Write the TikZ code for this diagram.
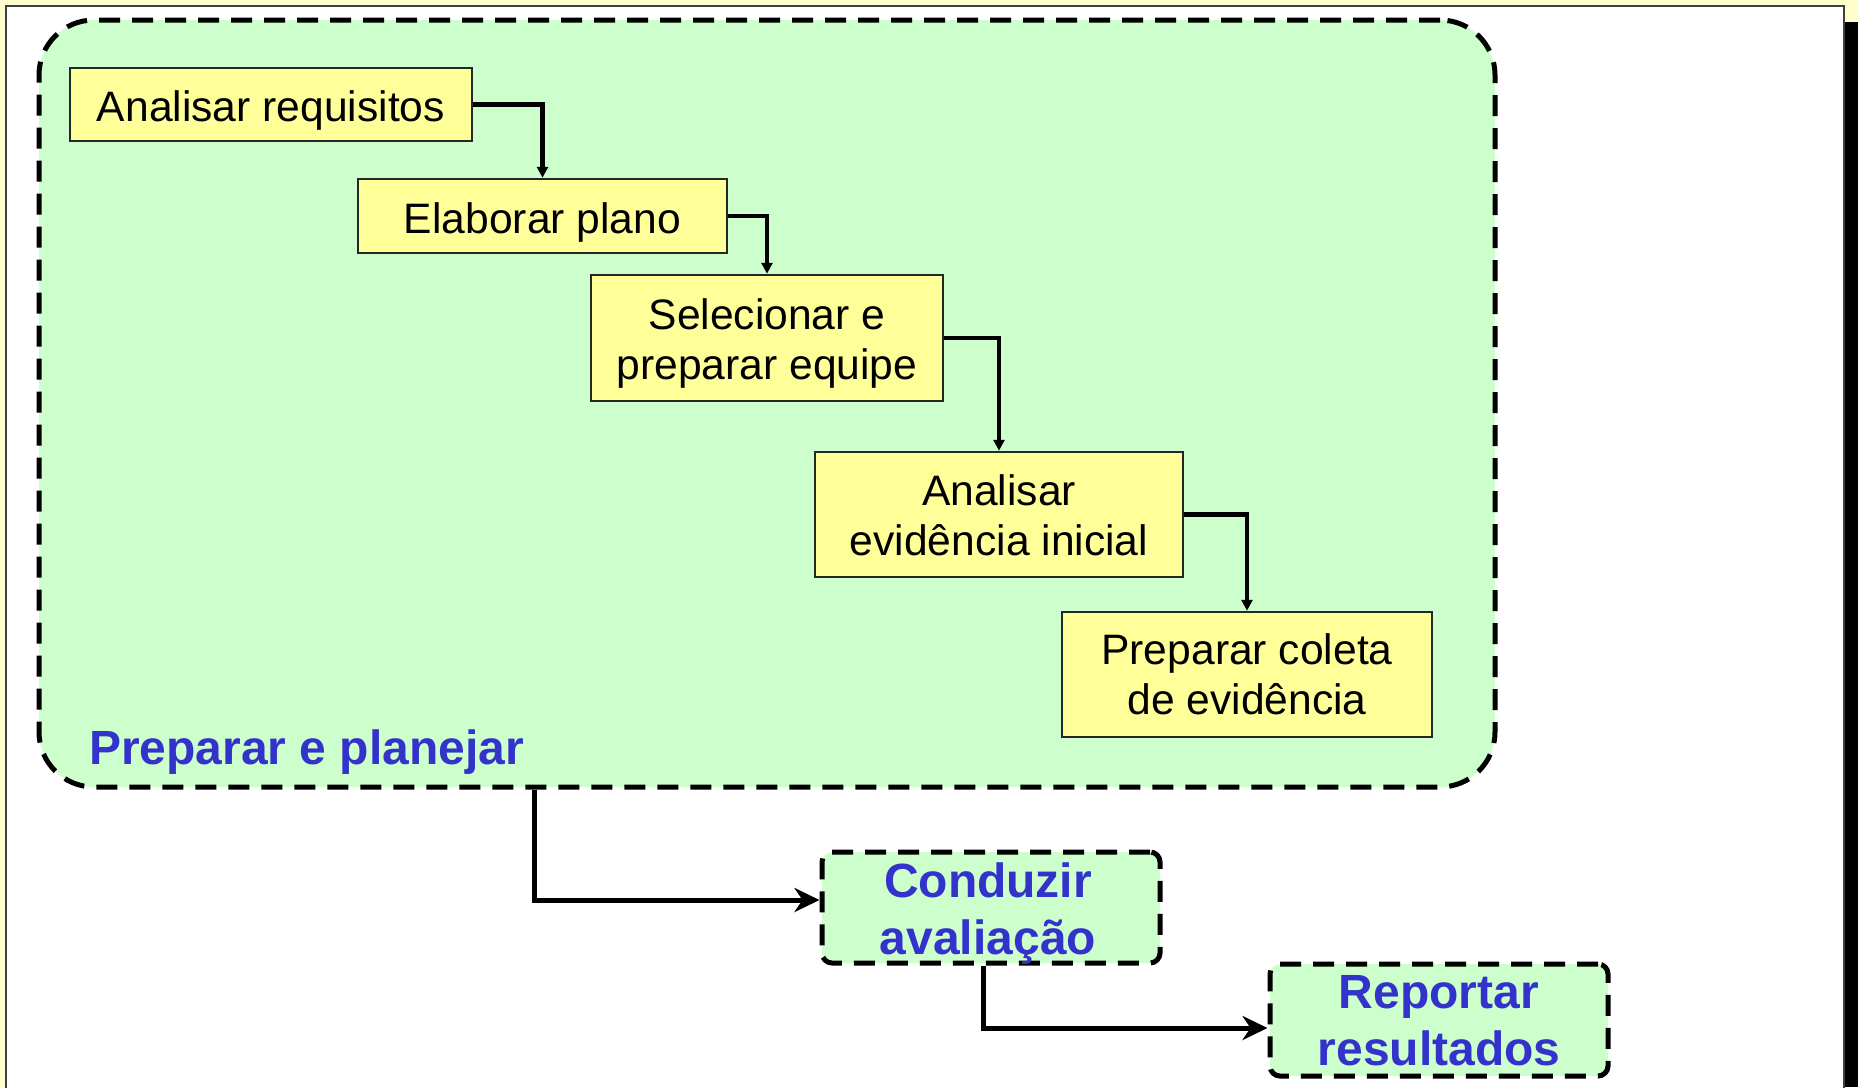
\documentclass[tikz,border=0pt]{standalone}
\usepackage{fontspec}
\setmainfont{Liberation Sans}
\usetikzlibrary{arrows.meta}

\definecolor{pagetint}{HTML}{FFFFCC}
\definecolor{framegray}{HTML}{404040}
\definecolor{groupgreen}{HTML}{CCFFCC}
\definecolor{taskyellow}{HTML}{FFFF99}
\definecolor{phaseblue}{HTML}{3333CC}

\tikzset{
  phasearea/.style={draw=black, fill=groupgreen, line width=5pt,
    dash pattern=on 21pt off 12pt, rounded corners=55pt, inner sep=0pt},
  phasebox/.style={draw=black, fill=groupgreen, line width=5pt,
    dash pattern=on 21pt off 12pt, rounded corners=10pt, inner sep=0pt},
  taskbox/.style={draw=black!85, fill=taskyellow, line width=2.5pt, inner sep=0pt},
  tasktext/.style={font=\fontsize{42.6}{50}\selectfont, text=black, align=center, inner sep=0pt},
  phasetext/.style={font=\bfseries\fontsize{48}{57}\selectfont, text=phaseblue, align=center, inner sep=0pt},
  stepflow/.style={line width=4.5pt, -{Triangle[length=11pt,width=11pt]}},
  phaseflow/.style={line width=5pt, -{Stealth[length=25pt,width=24pt,inset=8pt]}},
}

\begin{document}
\begin{tikzpicture}[x=1pt, y=-1pt]
  \useasboundingbox (0,0) rectangle (1858,1087);

  % page, drop shadow and white slide frame
  \fill[pagetint] (0,0) rectangle (1858,1087);
  \fill[black] (1845,22) rectangle (1858,1087);
  \draw[framegray, line width=2pt, fill=white] (6,6) rectangle (1844,1120);

  % planning phase area
  \node[phasearea, minimum width=1456pt, minimum height=767pt] (prep) at (767,403.5) {};
  \node[phasetext, anchor=base west] (preplabel) at (89,764) {Preparar e planejar};

  % planning steps
  \node[taskbox, minimum width=402pt, minimum height=73pt]  (b1) at (271,104.5) {};
  \node[taskbox, minimum width=369pt, minimum height=74pt]  (b2) at (542.5,216) {};
  \node[taskbox, minimum width=352pt, minimum height=126pt] (b3) at (767,338) {};
  \node[taskbox, minimum width=368pt, minimum height=125pt] (b4) at (999,514.5) {};
  \node[taskbox, minimum width=370pt, minimum height=125pt] (b5) at (1247,674.5) {};

  \node[tasktext, anchor=base] (t1) at (271,121) {Analisar requisitos};
  \node[tasktext, anchor=base] (t2) at (542.5,233) {Elaborar plano};
  \node[tasktext] (t3) at (767,343) {Selecionar e\\preparar equipe};
  \node[tasktext] (t4) at (999,515) {Analisar\\evidência inicial};
  \node[tasktext] (t5) at (1247,674.3) {Preparar coleta\\de evidência};

  % later phases
  \node[phasebox, minimum width=338pt, minimum height=111pt] (cond) at (991,907.5) {};
  \node[phasebox, minimum width=338pt, minimum height=112pt] (rep)  at (1439,1020) {};
  \node[phasetext] (condtext) at (988,913.5) {Conduzir\\avaliação};
  \node[phasetext] (reptext)  at (1439,1021) {Reportar\\resultados};

  % step connectors
  \draw[stepflow] (b1.east) -| (b2.north);
  \draw[stepflow] (b2.east) -| (b3.north);
  \draw[stepflow] (b3.east) -| (b4.north);
  \draw[stepflow] (b4.east) -| (b5.north);

  % phase connectors
  \draw[phaseflow] ([xshift=-233pt]prep.south) |- ([yshift=7.5pt]cond.west);
  \draw[phaseflow] ([xshift=-8pt]cond.south) |- ([yshift=-8pt]rep.west);
\end{tikzpicture}
\end{document}
